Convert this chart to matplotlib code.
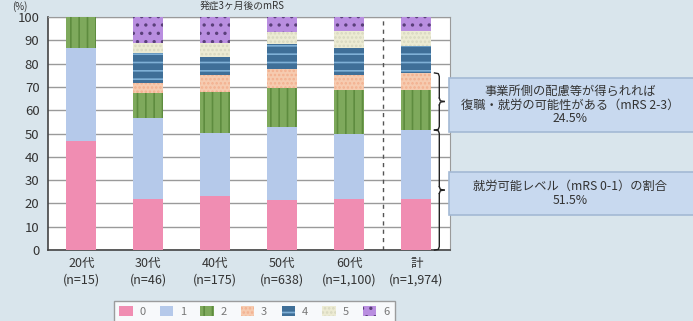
import numpy as np
import matplotlib.pyplot as plt
from matplotlib.patches import Patch, Rectangle
import matplotlib.transforms as mtransforms

plt.rcParams['font.family'] = ['Noto Sans CJK JP', 'DejaVu Sans']
plt.rcParams['hatch.linewidth'] = 1.2

groups = ['20代\n(n=15)', '30代\n(n=46)', '40代\n(n=175)', '50代\n(n=638)',
          '60代\n(n=1,100)', '計\n(n=1,974)']
levels = ['0', '1', '2', '3', '4', '5', '6']
mrs0 = [46.7, 21.7, 23.4, 21.5, 22.0, 22.1]
mrs1 = [40.0, 34.8, 26.8, 31.5, 28.0, 29.4]
mrs2 = [13.3, 10.9, 17.6, 16.5, 18.5, 17.2]
mrs3 = [0.0, 4.3, 7.2, 8.0, 6.5, 7.3]
mrs4 = [0.0, 13.0, 7.8, 11.0, 11.5, 11.5]
mrs5 = [0.0, 4.3, 6.0, 5.0, 7.5, 6.5]
mrs6 = [0.0, 10.9, 11.2, 6.5, 6.0, 6.0]
series = [mrs0, mrs1, mrs2, mrs3, mrs4, mrs5, mrs6]

face = ['#f08db2', '#b5c9ea', '#7ea95c', '#f6cbb0', '#3f6f98', '#ecebd3', '#b98ee0']
hatch_col = ['#f08db2', '#b5c9ea', '#5e8c3f', '#f3b08f', '#7fb0d6', '#d8d8c0', '#5a3f7a']
hatches = [None, None, '||', '....', '--', '....', '..']

bg = '#d9e5ec'
fig = plt.figure(figsize=(6.93, 3.21), dpi=100, facecolor=bg)
ax = fig.add_axes([0.069, 0.221, 0.580, 0.726])
ax.set_facecolor('white')

x = np.arange(len(groups))
bottom = np.zeros(len(groups))
handles = []
for vals, fc, hc, h, lab in zip(series, face, hatch_col, hatches, levels):
    vals = np.array(vals)
    ax.bar(x, vals, 0.45, bottom=bottom, color=fc, edgecolor=hc, hatch=h,
           linewidth=0, zorder=3)
    bottom += vals
    handles.append(Patch(facecolor=fc, edgecolor=hc, hatch=h, linewidth=0, label=lab))

ax.set_xlim(-0.5, 5.5)
ax.set_ylim(0, 100)
ax.set_yticks(np.arange(0, 101, 10))
ax.set_xticks(x)
ax.set_xticklabels(groups, fontsize=9, color='#333333', linespacing=1.4)
ax.tick_params(axis='y', labelsize=9.5, colors='#333333', length=0, pad=6)
ax.tick_params(axis='x', length=0, pad=5)
ax.grid(axis='y', color='#9a9a9a', linewidth=1.0, zorder=0)
for s in ['top', 'right']:
    ax.spines[s].set_color('#9a9a9a')
for s in ['left', 'bottom']:
    ax.spines[s].set_color('#444444')
    ax.spines[s].set_linewidth(1.2)

ax.axvline(4.5, color='#555555', linestyle=(0, (3, 3)), linewidth=1.0, zorder=2)


def brace(ax, xa, y0, y1, width=0.012):
    trans = mtransforms.blended_transform_factory(ax.transAxes, ax.transData)
    ym = (y0 + y1) / 2
    r = 1.5
    kw = dict(color='#222222', lw=1.0, transform=trans, clip_on=False, zorder=5)
    ax.plot([xa, xa + width * 0.8, xa + width, xa + width], [y1, y1 - 0.3, y1 - r, ym + r], **kw)
    ax.plot([xa + width, xa + width * 1.2, xa + 2 * width], [ym + r, ym + 0.3, ym], **kw)
    ax.plot([xa + width, xa + width * 1.2, xa + 2 * width], [ym - r, ym - 0.3, ym], **kw)
    ax.plot([xa + width, xa + width, xa + width * 0.8, xa], [ym - r, y0 + r, y0 + 0.3, y0], **kw)


low = mrs0[-1] + mrs1[-1]
high = low + mrs2[-1] + mrs3[-1]
brace(ax, 0.962, 0, low)
brace(ax, 0.962, low, high)

# annotation boxes
for y0, y1 in [(0.589, 0.757), (0.330, 0.464)]:
    fig.patches.append(Rectangle((0.648, y0), 0.36, y1 - y0, transform=fig.transFigure,
                                 facecolor='#c8d9ef', edgecolor='#a3b9d4', linewidth=1.2))
fig.text(0.823, 0.673, '事業所側の配慮等が得られれば\n復職・就労の可能性がある（mRS 2-3）\n24.5%',
         ha='center', va='center', fontsize=8.8, color='#333333', linespacing=1.1)
fig.text(0.823, 0.397, '就労可能レベル（mRS 0-1）の割合\n51.5%',
         ha='center', va='center', fontsize=8.8, color='#333333', linespacing=1.1)

fig.text(0.018, 0.998, '(%)', ha='left', va='top', fontsize=7, color='#333333')
fig.text(0.35, 0.998, '発症3ヶ月後のmRS', ha='center', va='top', fontsize=7, color='#333333')

leg = fig.legend(handles=handles, loc='upper left', bbox_to_anchor=(0.156, 0.08),
                 ncol=7, fontsize=8, frameon=True, fancybox=False, handlelength=1.2,
                 handleheight=1.0, columnspacing=1.3, handletextpad=0.6,
                 borderpad=0.5, labelcolor='#777777')
leg.get_frame().set_edgecolor('#888888')
leg.get_frame().set_linewidth(1.0)

fig.savefig('out.png', dpi=100, facecolor=bg)
